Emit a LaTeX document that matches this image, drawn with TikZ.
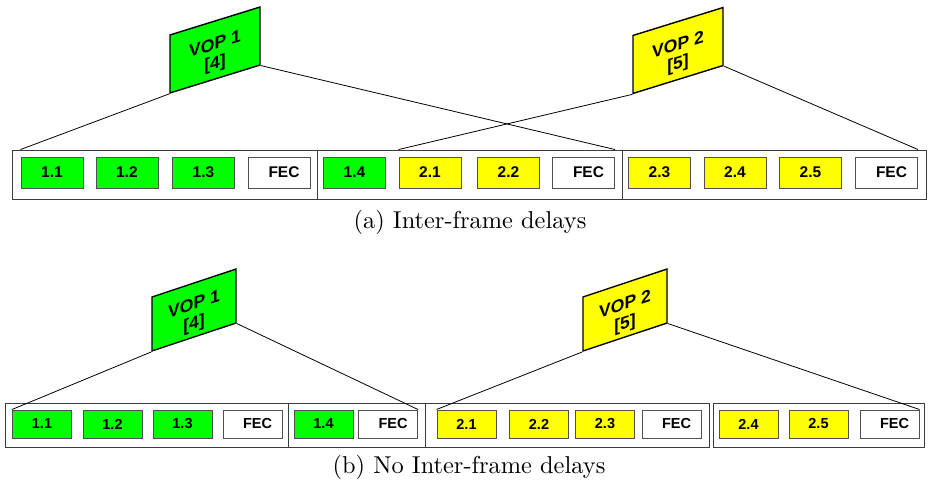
\documentclass[tikz,border=0pt]{standalone}
\usepackage{fontspec}
\setsansfont{Liberation Sans}
\newfontfamily\capfont{lmroman10-regular}[Extension=.otf]
\usetikzlibrary{positioning}
\definecolor{pktgreen}{RGB}{0,255,0}
\definecolor{pktyellow}{RGB}{255,255,0}
\definecolor{pktedge}{RGB}{80,80,80}
\definecolor{frmedge}{RGB}{60,60,60}

\begin{document}
\begin{tikzpicture}[x=1pt, y=-1pt,
    vop/.style={draw, line width=1.4pt, yslant=#1, inner sep=0pt,
      align=center, font=\sffamily\bfseries\fontsize{17.5}{19}\selectfont},
    frm/.style={draw=frmedge, line width=0.9pt, inner sep=0pt},
    pkt/.style={draw=pktedge, line width=1pt, inner sep=0pt,
      font=\sffamily\bfseries\fontsize{15.5}{16}\selectfont},
    pkta/.style={pkt, minimum width=62pt, minimum height=31pt},
    pktb/.style={pkt, minimum width=59pt, minimum height=28pt,
      font=\sffamily\bfseries\fontsize{14.5}{15}\selectfont},
    fec/.style={fill=white, execute at begin node={\hspace*{10pt}}},
    ln/.style={line width=0.8pt},
    captxt/.style={font=\capfont\fontsize{24.4}{28}\selectfont}]
  \useasboundingbox (0,0) rectangle (929,487);
  % === (a) Inter-frame delays: frames ===
  \node[frm, minimum width=305pt, minimum height=49pt] (fa1) at (164.5,174.5) {};
  \node[frm, minimum width=305pt, minimum height=49pt] (fa2) at (469.5,174.5) {};
  \node[frm, minimum width=304pt, minimum height=49pt] (fa3) at (774,174.5) {};
  % === (a) packets ===
  \node[pkta, fill=pktgreen]  (a11)   at (52,172.5)    {1.1};
  \node[pkta, fill=pktgreen]  (a12)   at (127,172.5)   {1.2};
  \node[pkta, fill=pktgreen]  (a13)   at (203.5,172.5) {1.3};
  \node[pkta, fec]            (afec1) at (279,172.5)   {FEC};
  \node[pkta, fill=pktgreen]  (a14)   at (354.5,172.5) {1.4};
  \node[pkta, fill=pktyellow] (a21)   at (430,172.5)   {2.1};
  \node[pkta, fill=pktyellow] (a22)   at (508.5,172.5) {2.2};
  \node[pkta, fec]            (afec2) at (583.5,172.5) {FEC};
  \node[pkta, fill=pktyellow] (a23)   at (659.5,172.5) {2.3};
  \node[pkta, fill=pktyellow] (a24)   at (735,172.5)   {2.4};
  \node[pkta, fill=pktyellow] (a25)   at (810.5,172.5) {2.5};
  \node[pkta, fec]            (afec3) at (886.5,172.5) {FEC};
  % === (a) VOPs ===
  \node[vop=0.31, fill=pktgreen, minimum width=90pt, minimum height=58pt]
    (vopa1) at (215,50) {\rule{0pt}{22pt}VOP 1\\{[4]}};
  \node[vop=0.31, fill=pktyellow, minimum width=90pt, minimum height=58pt]
    (vopa2) at (678,50.5) {\rule{0pt}{22pt}VOP 2\\{[5]}};
  \draw[ln] (vopa1.south west) -- (a11.west |- fa1.north);
  \draw[ln] (vopa1.south east) -- (afec2.east |- fa2.north);
  \draw[ln] (vopa2.south west) -- (a21.west |- fa2.north);
  \draw[ln] (vopa2.south east) -- (afec3.east |- fa3.north);
  \node[captxt] (capa) at (470,222) {(a) Inter-frame delays};
  % === (b) No inter-frame delays: frames ===
  \node[frm, minimum width=283pt, minimum height=44pt] (fb1) at (146.5,425) {};
  \node[frm, minimum width=137pt, minimum height=44pt] (fb2) at (356.5,425) {};
  \node[frm, minimum width=284pt, minimum height=44pt] (fb3) at (567,425) {};
  \node[frm, minimum width=211pt, minimum height=44pt] (fb4) at (818.5,425) {};
  % === (b) packets ===
  \node[pktb, fill=pktgreen]  (b11)   at (42,424)    {1.1};
  \node[pktb, fill=pktgreen]  (b12)   at (112.5,424) {1.2};
  \node[pktb, fill=pktgreen]  (b13)   at (182.5,424) {1.3};
  \node[pktb, fec]            (bfec1) at (252.5,424) {FEC};
  \node[pktb, fill=pktgreen]  (b14)   at (323.5,424) {1.4};
  \node[pktb, fec]            (bfec2) at (388,424)   {FEC};
  \node[pktb, fill=pktyellow] (b21)   at (466.5,424) {2.1};
  \node[pktb, fill=pktyellow] (b22)   at (539,424)   {2.2};
  \node[pktb, fill=pktyellow] (b23)   at (605,424)   {2.3};
  \node[pktb, fec]            (bfec3) at (671.5,424) {FEC};
  \node[pktb, fill=pktyellow] (b24)   at (748.5,424) {2.4};
  \node[pktb, fill=pktyellow] (b25)   at (818.5,424) {2.5};
  \node[pktb, fec]            (bfec4) at (889.5,424) {FEC};
  % === (b) VOPs ===
  \node[vop=0.333, fill=pktgreen, minimum width=84pt, minimum height=54pt]
    (vopb1) at (194,310) {\rule{0pt}{22pt}VOP 1\\{[4]}};
  \node[vop=0.333, fill=pktyellow, minimum width=84pt, minimum height=54pt]
    (vopb2) at (625,310) {\rule{0pt}{22pt}VOP 2\\{[5]}};
  \draw[ln] (vopb1.south west) -- (b11.north west);
  \draw[ln] (vopb1.south east) -- (bfec2.north east);
  \draw[ln] (vopb2.south west) -- (b21.north west);
  \draw[ln] (vopb2.south east) -- (bfec4.north east);
  \node[captxt] (capb) at (469,467) {(b) No Inter-frame delays};
\end{tikzpicture}
\end{document}
